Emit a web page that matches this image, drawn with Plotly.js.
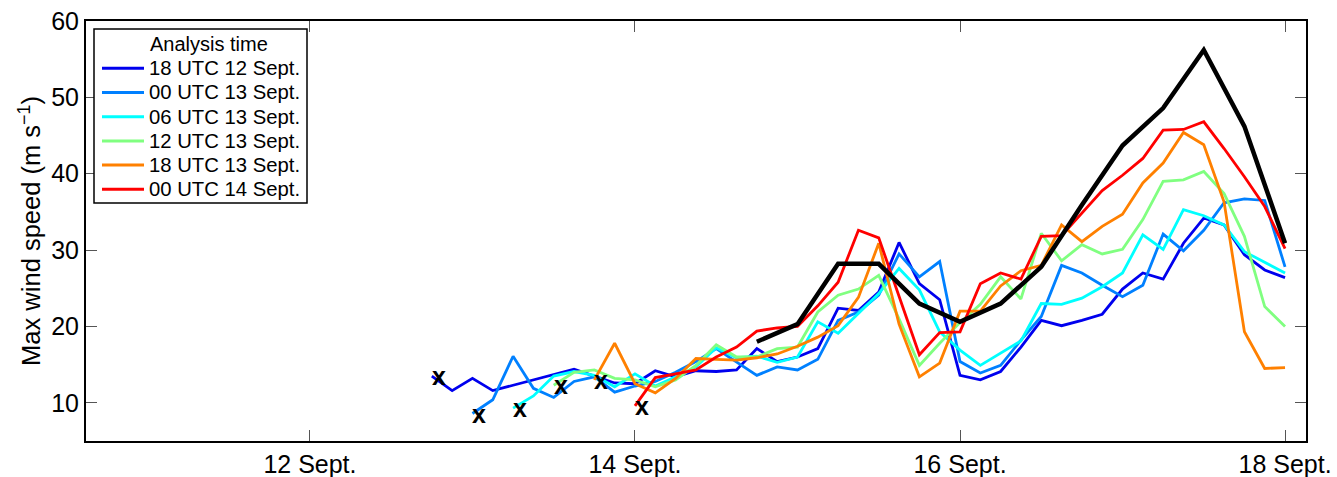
<!DOCTYPE html>
<html>
<head>
<meta charset="utf-8">
<script src="https://cdn.plot.ly/plotly-3.0.1.min.js"></script>
<style>
  html, body { margin: 0; padding: 0; background: #ffffff; }
  #chart { width: 1337px; height: 477px; }
</style>
</head>
<body>
<div id="chart"></div>
<script>
// ---- Data (days of September; values in m s^-1) ----
const stepDays = 0.125;          // forecasts are 3-hourly
const obsStepDays = 0.25;        // observed track is 6-hourly

const legendTitle = 'Analysis time';
const seriesNames = ['18 UTC 12 Sept.', '00 UTC 13 Sept.', '06 UTC 13 Sept.',
                     '12 UTC 13 Sept.', '18 UTC 13 Sept.', '00 UTC 14 Sept.'];
const seriesColors = ['#0000ee', '#0080ff', '#00ffff', '#80ff80', '#ff8000', '#ff0000'];
const seriesStart = [12.75, 13.0, 13.25, 13.5, 13.75, 14.0];

const wind18z12 = [13.5, 11.6, 13.2, 11.6, 12.3, 13.0, 13.6, 14.4, 13.5, 12.6,
                   12.5, 14.2, 13.4, 14.2, 14.1, 14.3, 17.1, 15.4, 16.0, 17.1,
                   22.4, 22.1, 24.5, 31.0, 25.6, 23.5, 13.6, 13.0, 14.1, 17.3,
                   20.8, 20.1, 20.8, 21.6, 24.9, 27.0, 26.2, 30.9, 34.2, 33.3,
                   29.4, 27.4, 26.4];
const wind00z13 = [8.6, 10.4, 16.1, 11.9, 10.7, 12.8, 13.4, 11.4, 12.2, 12.8,
                   14.0, 15.4, 17.1, 15.4, 13.6, 14.7, 14.3, 15.7, 20.8, 21.9,
                   24.1, 29.5, 26.5, 28.5, 15.4, 13.9, 14.9, 18.2, 21.3, 28.0,
                   27.0, 25.4, 23.9, 25.4, 32.1, 29.9, 32.6, 36.2, 36.7, 36.5,
                   27.8];
const wind06z13 = [9.3, 10.9, 13.5, 14.1, 13.6, 12.1, 13.8, 12.2, 13.4, 14.7,
                   17.2, 15.9, 16.1, 15.3, 16.0, 20.6, 19.1, 21.7, 24.3, 27.6,
                   24.8, 19.3, 16.9, 14.9, 16.5, 18.1, 23.0, 22.9, 23.7, 25.2,
                   27.0, 32.0, 30.1, 35.3, 34.5, 33.3, 29.8, 28.4, 27.0];
const wind12z13 = [12.3, 14.0, 14.3, 13.2, 13.0, 12.1, 13.0, 14.9,
                   17.6, 16.0, 16.0, 17.1, 17.3, 21.9, 24.1, 24.9, 26.7, 21.0,
                   14.9, 17.8, 20.5, 22.9, 26.5, 23.6, 32.2, 28.6, 30.7, 29.5,
                   30.1, 34.0, 39.0, 39.2, 40.3, 37.4, 31.8, 22.6, 20.0];
const wind18z13 = [13.0, 17.8, 12.5, 11.3, 13.2, 15.8,
                   15.7, 15.6, 15.9, 16.4, 17.4, 18.6, 20.1, 23.8, 30.9, 20.3,
                   13.4, 15.2, 22.0, 22.0, 25.3, 27.3, 28.0, 33.3, 31.1, 33.1,
                   34.7, 38.8, 41.4, 45.4, 43.8, 36.3, 19.3, 14.5, 14.6];
const wind00z14 = [9.6, 13.3, 13.8, 14.3,
                   16.0, 17.3, 19.4, 19.8, 20.0, 22.7, 25.8, 32.6, 31.6, 23.9,
                   16.3, 19.2, 19.3, 25.6, 27.0, 26.2, 31.8, 31.9, 34.8, 37.8,
                   39.8, 42.0, 45.7, 45.8, 46.8, 43.3, 39.6, 35.7, 30.2];

const obsStart = 14.75;
const windObserved = [18.0, 20.3, 28.2, 28.2, 23.0, 20.6, 23.0, 27.8, 35.9, 43.7,
                      48.6, 56.2, 46.2, 30.9];

const tickDays = [12, 14, 16, 18];
const tickLabels = ['12 Sept.', '14 Sept.', '16 Sept.', '18 Sept.'];

// ---- Layout geometry ----
const W = 1337, H = 477;
const M = {l: 86, r: 31, t: 21, b: 36};
const plotW = W - M.l - M.r, plotH = H - M.t - M.b;
const px = x => (x - M.l) / plotW;          // pixel -> paper x
const py = y => (H - M.b - y) / plotH;      // pixel -> paper y
const font = 'Liberation Sans, Arial, Helvetica, sans-serif';

// ---- Build traces ----
const allSeries = [wind18z12, wind00z13, wind06z13, wind12z13, wind18z13, wind00z14];
const timesFor = (start, step, n) => Array.from({length: n}, (_, i) => start + i * step);

const traces = allSeries.map((vals, i) => ({
  type: 'scatter', mode: 'lines', name: seriesNames[i], showlegend: false,
  x: timesFor(seriesStart[i], stepDays, vals.length), y: vals,
  line: {color: seriesColors[i], width: 2.8},
  hoverinfo: 'x+y'
}));

traces.push({
  type: 'scatter', mode: 'lines', name: 'Observed', showlegend: false,
  x: timesFor(obsStart, obsStepDays, windObserved.length), y: windObserved,
  line: {color: '#000000', width: 4.5}
});

// Start markers ("x") at the first value of each forecast
const annotations = seriesStart.map((s, i) => ({
  x: s, y: allSeries[i][0], xref: 'x', yref: 'y',
  text: '<b>x</b>', showarrow: false, xanchor: 'left', yanchor: 'middle',
  xshift: -2, yshift: 0,
  font: {family: font, size: 25, color: '#000000'}
}));

// ---- Legend (drawn as a boxed key) ----
const legBox = {x0: 94, x1: 307, y0: 29, y1: 203};
const rowY0 = 68.3, rowDy = 24.2;
const shapes = [{
  type: 'rect', xref: 'paper', yref: 'paper', layer: 'above',
  x0: px(legBox.x0), x1: px(legBox.x1), y0: py(legBox.y1), y1: py(legBox.y0),
  fillcolor: '#ffffff', line: {color: '#000000', width: 1.5}
}];
annotations.push({
  xref: 'paper', yref: 'paper', x: px(208.5), y: py(43.5),
  text: legendTitle, showarrow: false, xanchor: 'center', yanchor: 'middle',
  font: {family: font, size: 20, color: '#000000'}
});
seriesNames.forEach((name, i) => {
  const yy = rowY0 + i * rowDy;
  shapes.push({
    type: 'line', xref: 'paper', yref: 'paper', layer: 'above',
    x0: px(102), x1: px(144), y0: py(yy), y1: py(yy),
    line: {color: seriesColors[i], width: 3}
  });
  annotations.push({
    xref: 'paper', yref: 'paper', x: px(147), y: py(yy),
    text: name, showarrow: false, xanchor: 'left', yanchor: 'middle',
    font: {family: font, size: 20.3, color: '#000000'}
  });
});

const layout = {
  width: W, height: H,
  margin: M,
  paper_bgcolor: '#ffffff', plot_bgcolor: '#ffffff',
  font: {family: font, size: 25, color: '#000000'},
  showlegend: false,
  xaxis: {
    range: [10.622, 18.129],
    tickvals: tickDays, ticktext: tickLabels,
    ticks: 'inside', ticklen: 11, tickwidth: 1, tickcolor: '#555555',
    showline: true, linecolor: '#000000', linewidth: 2, mirror: 'ticks',
    showgrid: false, zeroline: false,
    tickfont: {family: font, size: 25, color: '#000000'}
  },
  yaxis: {
    range: [5, 60], tickvals: [10, 20, 30, 40, 50, 60],
    ticks: 'inside', ticklen: 11, tickwidth: 1, tickcolor: '#555555',
    showline: true, linecolor: '#000000', linewidth: 2, mirror: 'ticks',
    showgrid: false, zeroline: false,
    tickfont: {family: font, size: 25, color: '#000000'},
    title: {text: 'Max wind speed (m s<sup>\u22121</sup>)', font: {family: font, size: 25.5}, standoff: 3}
  },
  shapes: shapes,
  annotations: annotations
};

Plotly.newPlot('chart', traces, layout, {staticPlot: true, displayModeBar: false});
</script>
</body>
</html>
